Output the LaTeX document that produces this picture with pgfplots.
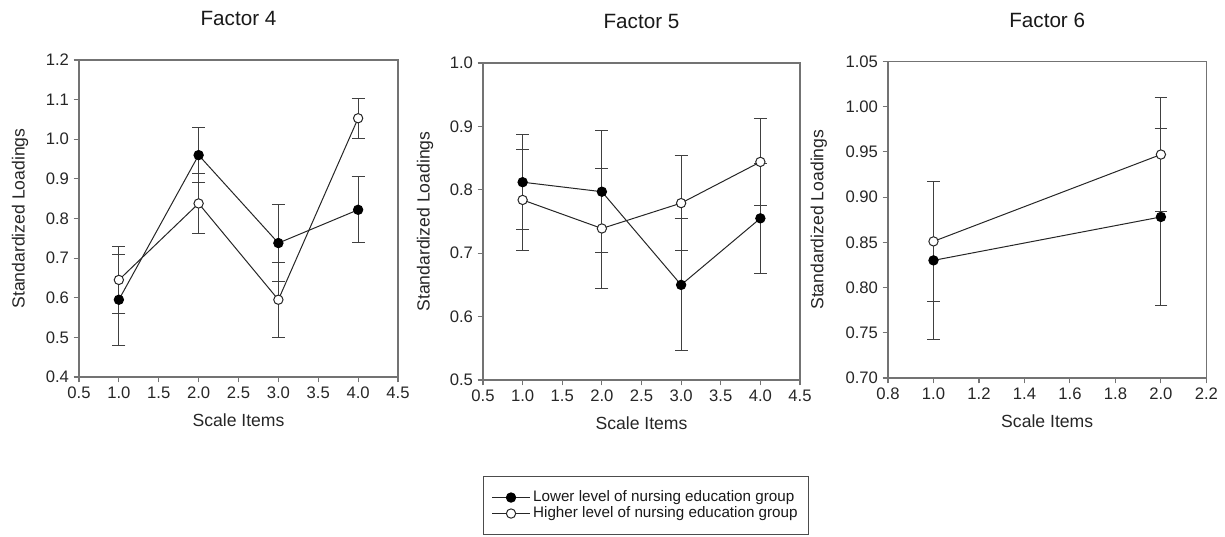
\documentclass[border=0pt]{standalone}
\usepackage{fontspec}
\setmainfont{Liberation Sans}
\usepackage{pgfplots}
\pgfplotsset{compat=1.18}
\begin{document}
\begin{tikzpicture}
\pgfplotsset{
  myax/.style={
    scale only axis,
    axis line style={black!55, line width=0.9pt},
    tick style={black!55, line width=0.8pt},
    tick align=outside, tick pos=left,
    major tick length=4pt,
    /pgf/number format/assume math mode=true,
    tick label style={font=\fontsize{12.5}{14}\selectfont, black!85},
    label style={font=\fontsize{13.2}{15}\selectfont, black!85},
    title style={font=\fontsize{15.5}{17}\selectfont, black!90, at={(axis description cs:0.5,1.105)}, anchor=center},
    xlabel={Scale Items}, ylabel={Standardized Loadings},
    xlabel style={at={(axis description cs:0.5,-0.135)}, anchor=center},
    xticklabel style={/pgf/number format/.cd, fixed, fixed zerofill, precision=1},
    legend image code/.code={\draw[mark repeat=2,mark phase=2] plot coordinates {(0cm,0cm) (0.5cm,0cm) (1.0cm,0cm)};},
  },
  lowp/.style={black!85, line width=0.75pt, mark=*, mark size=3.5pt,
    mark options={fill=black, draw=black},
    error bars/.cd, y dir=both, y explicit,
    error bar style={line width=0.8pt, black!75},
    error mark options={mark size=4.8pt, line width=0.8pt, black!75, rotate=90}},
  highp/.style={black!85, line width=0.75pt, mark=*, mark size=3.5pt,
    mark options={fill=white, draw=black!85},
    error bars/.cd, y dir=both, y explicit,
    error bar style={line width=0.8pt, black!75},
    error mark options={mark size=4.8pt, line width=0.8pt, black!75, rotate=90}},
}
\path[use as bounding box] (0,0) rectangle (918.75pt,402pt);

% Factor 4
\begin{axis}[myax, at={(59.25pt,119.25pt)}, anchor=south west,
  width=239.25pt, height=237.75pt,
  title={Factor 4},
  xmin=0.5, xmax=4.5, ymin=0.4, ymax=1.2,
  xtick={0.5,1,1.5,2,2.5,3,3.5,4,4.5},
  ytick={0.4,0.5,0.6,0.7,0.8,0.9,1.0,1.1,1.2},
  yticklabel style={/pgf/number format/.cd, fixed, fixed zerofill, precision=1},
  ylabel style={at={(axis description cs:-0.185,0.5)}, anchor=center},
]
\addplot[lowp] coordinates {(1,0.595) +- (0,0.115) (2,0.960) +- (0,0.070) (3,0.738) +- (0,0.098) (4,0.822) +- (0,0.083)};
\addplot[highp] coordinates {(1,0.645) +- (0,0.085) (2,0.838) +- (0,0.075) (3,0.595) +- (0,0.095) (4,1.053) +- (0,0.051)};
\end{axis}

% Factor 5
\begin{axis}[myax, at={(362.25pt,117pt)}, anchor=south west,
  width=237.75pt, height=237.75pt,
  title={Factor 5},
  xmin=0.5, xmax=4.5, ymin=0.5, ymax=1.0,
  xtick={0.5,1,1.5,2,2.5,3,3.5,4,4.5},
  ytick={0.5,0.6,0.7,0.8,0.9,1.0},
  yticklabel style={/pgf/number format/.cd, fixed, fixed zerofill, precision=1},
  ylabel style={at={(axis description cs:-0.183,0.5)}, anchor=center},
  legend style={at={(axis description cs:0.514,-0.396)}, anchor=center,
    draw=black!70, line width=0.9pt, inner xsep=6pt, inner ysep=10pt,
    font=\fontsize{11.4}{12}\selectfont, text=black!90,
    nodes={inner ysep=0.5pt, inner xsep=2pt, text height=8.5pt, text depth=2.5pt},
    row sep=0pt, legend cell align=left},
]
\addplot[lowp] coordinates {(1,0.812) +- (0,0.075) (2,0.797) +- (0,0.096) (3,0.650) +- (0,0.104) (4,0.755) +- (0,0.087)};
\addlegendentry{Lower level of nursing education group}
\addplot[highp] coordinates {(1,0.784) +- (0,0.080) (2,0.739) +- (0,0.095) (3,0.779) +- (0,0.075) (4,0.844) +- (0,0.069)};
\addlegendentry{Higher level of nursing education group}
\end{axis}

% Factor 6
\begin{axis}[myax, at={(666pt,118.5pt)}, anchor=south west,
  width=238.8pt, height=237.5pt,
  title={Factor 6},
  xmin=0.8, xmax=2.2, ymin=0.70, ymax=1.05,
  xtick={0.8,1.0,1.2,1.4,1.6,1.8,2.0,2.2},
  ytick={0.70,0.75,0.80,0.85,0.90,0.95,1.00,1.05},
  yticklabel style={/pgf/number format/.cd, fixed, fixed zerofill, precision=2},
  ylabel style={at={(axis description cs:-0.217,0.5)}, anchor=center},
]
\addplot[lowp] coordinates {(1,0.830) +- (0,0.087) (2,0.878) +- (0,0.098)};
\addplot[highp] coordinates {(1,0.851) +- (0,0.066) (2,0.947) +- (0,0.063)};
\end{axis}
\end{tikzpicture}
\end{document}
